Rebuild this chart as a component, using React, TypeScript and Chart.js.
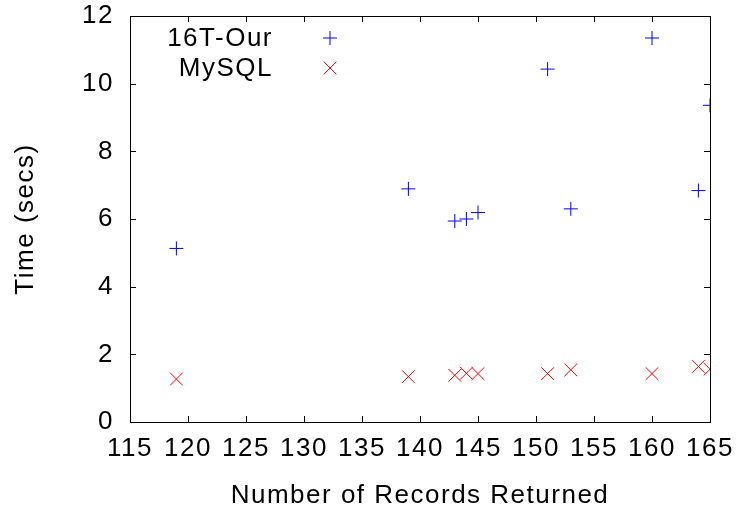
import React, { useEffect, useRef } from "react";
import { Chart, registerables } from "chart.js";

Chart.register(...registerables);

const ourX = [119, 139, 143, 144, 145, 151, 153, 160, 164, 165];
const ourY = [5.13, 6.89, 5.94, 6.0, 6.19, 10.43, 6.3, 11.35, 6.84, 9.36];
const mysqlX = [119, 139, 143, 144, 145, 151, 153, 160, 164, 165];
const mysqlY = [1.27, 1.34, 1.38, 1.44, 1.43, 1.43, 1.54, 1.43, 1.64, 1.56];
const seriesLabels = ["16T-Our", "MySQL"];
const xTitle = "Number of Records Returned";
const yTitle = "Time (secs)";
const xMin = 115, xMax = 165, xStep = 5;
const yMin = 0, yMax = 12, yStep = 2;

const FONT = "'Liberation Sans', Arial, sans-serif";
const FS = 26;
const LS = "1.5px";

const framePlugin = {
  id: "gnuFrame",
  beforeDraw(chart: any) {
    (chart.ctx as any).letterSpacing = LS;
  },
  afterDraw(chart: any) {
    const { ctx, chartArea: a, scales } = chart;
    const xs = scales.x, ys = scales.y;
    ctx.save();
    (ctx as any).letterSpacing = LS;
    ctx.strokeStyle = "#000";
    ctx.lineWidth = 1;
    ctx.beginPath();
    const tl = 6;
    for (let v = xMin; v <= xMax + 1e-9; v += xStep) {
      const px = Math.round(xs.getPixelForValue(v)) + 0.5;
      ctx.moveTo(px, a.bottom); ctx.lineTo(px, a.bottom - tl);
      ctx.moveTo(px, a.top); ctx.lineTo(px, a.top + tl);
    }
    for (let v = yMin; v <= yMax + 1e-9; v += yStep) {
      const py = Math.round(ys.getPixelForValue(v)) + 0.5;
      ctx.moveTo(a.left, py); ctx.lineTo(a.left + tl, py);
      ctx.moveTo(a.right, py); ctx.lineTo(a.right - tl, py);
    }
    ctx.stroke();
    ctx.strokeRect(Math.round(a.left) + 0.5, Math.round(a.top) + 0.5, Math.round(a.right - a.left), Math.round(a.bottom - a.top));

    // titles
    ctx.fillStyle = "#000";
    ctx.font = `${FS}px ${FONT}`;
    ctx.textAlign = "center";
    ctx.textBaseline = "alphabetic";
    ctx.fillText(xTitle, (a.left + a.right) / 2, 503);
    ctx.save();
    ctx.translate(33, (a.top + a.bottom) / 2);
    ctx.rotate(-Math.PI / 2);
    ctx.fillText(yTitle, 0, 0);
    ctx.restore();

    // legend
    const rows = [38, 68];
    chart.data.datasets.forEach((ds: any, i: number) => {
      ctx.font = `${FS}px ${FONT}`;
      ctx.textAlign = "right";
      ctx.textBaseline = "middle";
      ctx.fillStyle = "#000";
      ctx.fillText(ds.label, 273, rows[i] + 1);
      ctx.strokeStyle = ds.borderColor;
      ctx.lineWidth = 1;
      ctx.beginPath();
      const cx = 330, cy = rows[i];
      if (ds.pointStyle === "cross") {
        const r = ds.pointRadius;
        ctx.moveTo(cx - r, cy); ctx.lineTo(cx + r, cy);
        ctx.moveTo(cx, cy - r); ctx.lineTo(cx, cy + r);
      } else {
        const r = ds.pointRadius * Math.SQRT1_2;
        ctx.moveTo(cx - r, cy - r); ctx.lineTo(cx + r, cy + r);
        ctx.moveTo(cx - r, cy + r); ctx.lineTo(cx + r, cy - r);
      }
      ctx.stroke();
    });
    ctx.restore();
  },
};

const zeroPad = (s: any) => {
  s.paddingLeft = 0; s.paddingRight = 0; s.paddingTop = 0; s.paddingBottom = 0;
};

export default function App() {
  const ref = useRef<HTMLCanvasElement>(null);
  useEffect(() => {
    if (!ref.current) return;
    const chart = new Chart(ref.current, {
      type: "scatter",
      data: {
        datasets: [
          {
            label: seriesLabels[0],
            data: ourX.map((x, i) => ({ x, y: ourY[i] })),
            pointStyle: "cross",
            pointRadius: 7,
            borderColor: "#0000ff",
            backgroundColor: "#0000ff",
            borderWidth: 1,
          },
          {
            label: seriesLabels[1],
            data: mysqlX.map((x, i) => ({ x, y: mysqlY[i] })),
            pointStyle: "crossRot",
            pointRadius: 9,
            borderColor: "#ff0000",
            backgroundColor: "#ff0000",
            borderWidth: 1,
          },
        ],
      },
      options: {
        animation: false,
        responsive: false,
        maintainAspectRatio: false,
        events: [],
        layout: { padding: { top: 16, right: 27, left: 0, bottom: 0 } },
        plugins: { legend: { display: false }, tooltip: { enabled: false } },
        scales: {
          x: {
            type: "linear",
            min: xMin,
            max: xMax,
            ticks: { stepSize: xStep, color: "#000", font: { family: FONT, size: FS }, padding: 11, maxRotation: 0, autoSkip: false },
            grid: { display: false, drawTicks: false },
            border: { display: false },
            afterFit: (s: any) => { s.height = 90; zeroPad(s); },
          },
          y: {
            type: "linear",
            min: yMin,
            max: yMax,
            ticks: { stepSize: yStep, color: "#000", font: { family: FONT, size: FS }, padding: 16 },
            grid: { display: false, drawTicks: false },
            border: { display: false },
            afterFit: (s: any) => { s.width = 130; zeroPad(s); },
          },
        },
      },
      plugins: [framePlugin],
    });
    return () => chart.destroy();
  }, []);
  return (
    <div style={{ position: "fixed", left: 0, top: 0, width: 737, height: 512, background: "#fff" }}>
      <canvas ref={ref} width={737} height={512} style={{ width: 737, height: 512 }} />
    </div>
  );
}
